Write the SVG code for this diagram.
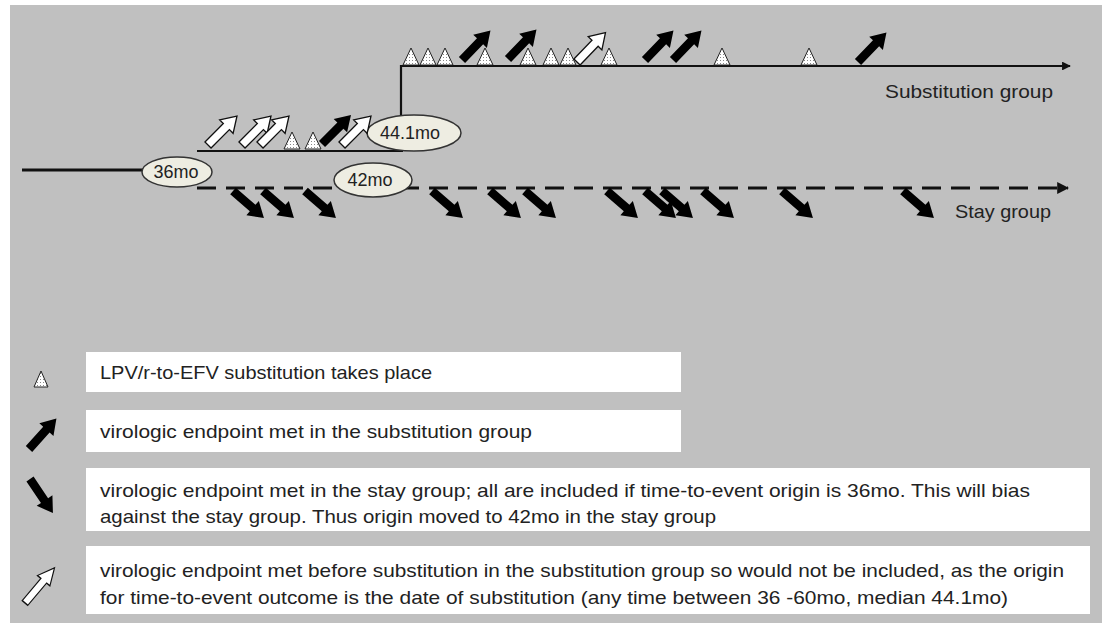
<svg xmlns="http://www.w3.org/2000/svg" width="1107" height="626" viewBox="0 0 1107 626">
<style>
.bg{fill:#c0c0c0}
.ln{stroke:#111;fill:none;stroke-width:2.2}
.lnt{stroke:#111;fill:none;stroke-width:3}
.dash{stroke:#111;fill:none;stroke-width:3;stroke-dasharray:19 10}
.ell{fill:#eeede2;stroke:#333;stroke-width:1.5}
.lbl{font-family:"Liberation Sans",Arial,sans-serif;font-size:18px;fill:#222}
.grp{font-family:"Liberation Sans",Arial,sans-serif;font-size:19px;fill:#222}
.leg{font-family:"Liberation Sans",Arial,sans-serif;font-size:19px;fill:#222}
.box{fill:#fff}
.blk{fill:#000}
.wht{fill:#fff;stroke:#111;stroke-width:1.3}
.tri{fill:url(#dots);stroke:#222;stroke-width:1}
</style>
<defs>
<pattern id="dots" width="3" height="3" patternUnits="userSpaceOnUse">
<rect width="3" height="3" fill="#fff"/>
<rect x="1" y="1" width="1" height="1" fill="#888"/>
</pattern>
<path id="arr" d="M0,-4.3 L26,-4.3 L26,-9.5 L41,0 L26,9.5 L26,4.3 L0,4.3 Z"/>
<path id="tri" d="M0,-17 L8,0 L-8,0 Z"/>
<marker id="ah" viewBox="0 0 10 10" refX="9" refY="5" markerWidth="4" markerHeight="4" orient="auto" markerUnits="strokeWidth">
<path d="M0,0 L10,5 L0,10 Z" fill="#111"/>
</marker>
</defs>
<rect class="bg" x="10" y="5" width="1092" height="618"/>

<g id="connectors">
<line class="lnt" x1="22" y1="170" x2="145" y2="170"/>
<line class="ln" x1="197" y1="151" x2="403" y2="151"/>
<polyline class="ln" points="401,117 401,66 1070,66" marker-end="url(#ah)"/>
<line class="dash" x1="197" y1="188" x2="1068" y2="188" marker-end="url(#ah)"/>
</g>

<g id="node-36mo">
<ellipse class="ell" cx="177" cy="172" rx="35" ry="15"/>
<text class="lbl" x="176" y="178" text-anchor="middle">36mo</text>
</g>
<g id="node-44mo">
<ellipse class="ell" cx="414" cy="133" rx="47" ry="18"/>
<text class="lbl" x="410" y="139" text-anchor="middle">44.1mo</text>
</g>
<g id="node-42mo">
<ellipse class="ell" cx="373" cy="180" rx="39" ry="17"/>
<text class="lbl" x="370" y="186" text-anchor="middle">42mo</text>
</g>

<g id="substitution-label">
<text class="grp" x="885" y="98" textLength="168" lengthAdjust="spacingAndGlyphs">Substitution group</text>
</g>
<g id="stay-label">
<text class="grp" x="955" y="218" textLength="96" lengthAdjust="spacingAndGlyphs">Stay group</text>
</g>

<g id="events-substitution">
<use href="#tri" class="tri" x="292" y="149"/>
<use href="#tri" class="tri" x="313" y="149"/>
<use href="#arr" class="wht" transform="translate(208,145) rotate(-45)"/>
<use href="#arr" class="wht" transform="translate(242,145) rotate(-45)"/>
<use href="#arr" class="wht" transform="translate(260,145) rotate(-45)"/>
<use href="#arr" class="blk" transform="translate(322,144) rotate(-45)"/>
<use href="#arr" class="wht" transform="translate(342,145) rotate(-45)"/>

<use href="#tri" class="tri" x="411" y="65"/>
<use href="#tri" class="tri" x="428" y="65"/>
<use href="#tri" class="tri" x="445" y="65"/>
<use href="#tri" class="tri" x="485" y="65"/>
<use href="#tri" class="tri" x="528" y="65"/>
<use href="#tri" class="tri" x="551" y="65"/>
<use href="#tri" class="tri" x="568" y="65"/>
<use href="#tri" class="tri" x="609" y="65"/>
<use href="#tri" class="tri" x="722" y="65"/>
<use href="#tri" class="tri" x="809" y="65"/>
<use href="#arr" class="blk" transform="translate(462,60) rotate(-46)"/>
<use href="#arr" class="blk" transform="translate(508,59) rotate(-46)"/>
<use href="#arr" class="wht" transform="translate(577,62) rotate(-46)"/>
<use href="#arr" class="blk" transform="translate(645,60) rotate(-46)"/>
<use href="#arr" class="blk" transform="translate(673,60) rotate(-46)"/>
<use href="#arr" class="blk" transform="translate(858,62) rotate(-46)"/>
</g>

<g id="events-stay">
<use href="#arr" class="blk" transform="translate(233,191) rotate(41)"/>
<use href="#arr" class="blk" transform="translate(263,191) rotate(41)"/>
<use href="#arr" class="blk" transform="translate(305,191) rotate(41)"/>
<use href="#arr" class="blk" transform="translate(432,191) rotate(41)"/>
<use href="#arr" class="blk" transform="translate(490,191) rotate(41)"/>
<use href="#arr" class="blk" transform="translate(525,191) rotate(41)"/>
<use href="#arr" class="blk" transform="translate(607,191) rotate(41)"/>
<use href="#arr" class="blk" transform="translate(645,191) rotate(41)"/>
<use href="#arr" class="blk" transform="translate(662,191) rotate(41)"/>
<use href="#arr" class="blk" transform="translate(703,191) rotate(41)"/>
<use href="#arr" class="blk" transform="translate(782,191) rotate(41)"/>
<use href="#arr" class="blk" transform="translate(903,191) rotate(41)"/>
</g>

<g id="legend-triangle">
<path class="tri" d="M41,371 L48,387 L34,387 Z"/>
<rect class="box" x="86" y="352" width="595" height="40"/>
<text class="leg" x="100" y="379" textLength="332" lengthAdjust="spacingAndGlyphs">LPV/r-to-EFV substitution takes place</text>
</g>
<g id="legend-black-up">
<use href="#arr" class="blk" transform="translate(29,449) rotate(-48)"/>
<rect class="box" x="86" y="410" width="595" height="42"/>
<text class="leg" x="100" y="438" textLength="432" lengthAdjust="spacingAndGlyphs">virologic endpoint met in the substitution  group</text>
</g>
<g id="legend-black-down">
<use href="#arr" class="blk" transform="translate(30,479) rotate(56)"/>
<rect class="box" x="86" y="468" width="1004" height="63"/>
<text class="leg" x="100" y="497" textLength="930" lengthAdjust="spacingAndGlyphs">virologic endpoint met in the stay group; all are included if time-to-event origin is 36mo. This will bias</text>
<text class="leg" x="100" y="523" textLength="616" lengthAdjust="spacingAndGlyphs">against the stay group. Thus origin moved to 42mo in the stay group</text>
</g>
<g id="legend-white-up">
<use href="#arr" class="wht" transform="translate(25,603) rotate(-50) scale(1.12,0.85)"/>
<rect class="box" x="86" y="546" width="1004" height="68"/>
<text class="leg" x="100" y="577" textLength="964" lengthAdjust="spacingAndGlyphs">virologic endpoint met before substitution in the substitution group so would not be included, as the origin</text>
<text class="leg" x="100" y="604" textLength="908" lengthAdjust="spacingAndGlyphs">for time-to-event outcome is the date of substitution (any time between 36 -60mo, median 44.1mo)</text>
</g>
</svg>
